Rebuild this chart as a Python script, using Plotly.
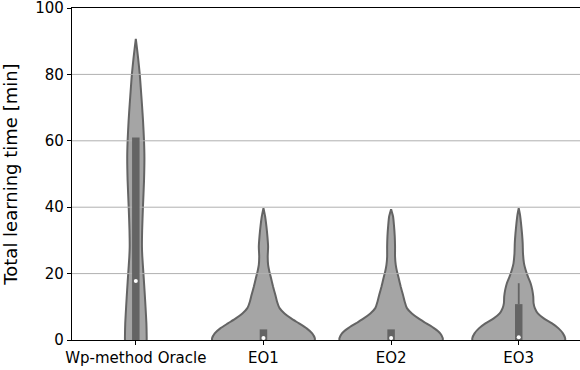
import plotly.graph_objects as go

# ---------------- data ----------------
categories = ["Wp-method Oracle", "EO1", "EO2", "EO3"]

# kernel density outlines: level (minutes) and relative density at that level
wp_levels = [0, 1, 5, 10, 15, 20, 25, 28, 33, 40, 48, 55, 60, 66, 71, 76, 80, 85, 90.7]
wp_density = [11, 11, 10.7, 9.8, 8.8, 7.7, 6.6, 6.2, 6.4, 7.2, 8.3, 8.7, 8.3, 7.3, 6.2, 5, 4, 2.3, 0]

eo1_levels = [0, 0.5, 2, 3.5, 5, 6.5, 8, 9.6, 11.6, 13.6, 16.1, 18.6, 20.6, 22.6, 25.1, 28.1, 31.2, 34.2, 37.2, 39.7]
eo1_density = [52, 52, 49.3, 43.7, 36, 28, 21.3, 16.3, 13.7, 12, 9.7, 7.7, 6, 4.7, 4.3, 4.7, 4, 3, 1.7, 0]

eo2_levels = [0, 0.5, 2, 3.5, 5, 6.5, 8, 9.6, 11.6, 13.6, 16.1, 18.6, 20.6, 22.6, 25.1, 28.1, 31.2, 34.2, 37.2, 39.4]
eo2_density = [52.3, 52.3, 49.7, 43.7, 35.7, 27.7, 21, 16, 13.7, 12, 9.7, 7.7, 6, 4.7, 4, 4, 3.7, 3, 2, 0]

eo3_levels = [0, 0.5, 2, 3.5, 5, 6.5, 8, 9.6, 11.1, 13.1, 15.1, 17.1, 19.1, 21.1, 23.1, 26.1, 29.1, 32.1, 35.2, 37.7, 39.7]
eo3_density = [47, 47, 44.7, 40.3, 33.7, 25.3, 19.3, 16.3, 15, 14.7, 13.7, 12, 9.3, 7, 5.3, 4.3, 4, 3.3, 2.3, 1.3, 0]

# inner box statistics
q1 = [0, 0, 0, 0]
q3 = [61, 3.2, 3.2, 10.8]
whisker_hi = [61, 3.2, 3.2, 17.1]
medians = [17.8, 0.6, 0.6, 0.8]

y_ticks = [0, 20, 40, 60, 80, 100]
grid_vals = [20, 40, 60, 80]

# ---------------- styling ----------------
FILL = "#a5a5a5"
EDGE = "#646464"
FONT = "DejaVu Sans"
MAX_HALF_WIDTH = 0.405
X_RANGE = [-0.5, 3.48]

levels_all = [wp_levels, eo1_levels, eo2_levels, eo3_levels]
dens_all = [wp_density, eo1_density, eo2_density, eo3_density]
dmax = max(max(d) for d in dens_all)

fig = go.Figure()

for i, (lv, dn) in enumerate(zip(levels_all, dens_all)):
    hw = [d / dmax * MAX_HALF_WIDTH for d in dn]
    xs = [i - w for w in hw] + [i + w for w in reversed(hw)]
    ys = list(lv) + list(reversed(lv))
    fig.add_trace(go.Scatter(
        x=xs, y=ys, mode="lines", fill="toself", fillcolor=FILL,
        line=dict(color=EDGE, width=2, shape="spline", smoothing=0.6),
        hoverinfo="skip", showlegend=False))

# grid lines above the violin bodies but below the inner boxes (matplotlib order)
for g in grid_vals:
    fig.add_trace(go.Scatter(
        x=X_RANGE, y=[g, g], mode="lines",
        line=dict(color="#b0b0b0", width=1),
        hoverinfo="skip", showlegend=False))

for i in range(len(categories)):
    if whisker_hi[i] > q3[i]:
        fig.add_trace(go.Scatter(
            x=[i, i], y=[q3[i], whisker_hi[i]], mode="lines",
            line=dict(color=EDGE, width=1.8),
            hoverinfo="skip", showlegend=False))
    fig.add_trace(go.Scatter(
        x=[i, i], y=[q1[i], q3[i]], mode="lines",
        line=dict(color=EDGE, width=7.5),
        hoverinfo="skip", showlegend=False))

fig.add_trace(go.Scatter(
    x=list(range(len(categories))), y=medians, mode="markers",
    marker=dict(color="white", size=4, line=dict(width=0)),
    hoverinfo="skip", showlegend=False))

fig.update_layout(
    width=580, height=370,
    margin=dict(l=72, r=0, t=8, b=30),
    paper_bgcolor="white", plot_bgcolor="white",
    font=dict(family=FONT, size=15, color="black"),
    showlegend=False,
)
fig.update_xaxes(
    range=X_RANGE,
    tickmode="array", tickvals=list(range(len(categories))), ticktext=categories,
    showgrid=False, zeroline=False,
    showline=True, linecolor="black", linewidth=1.2, mirror=True,
    ticks="outside", ticklen=4, tickwidth=1, tickcolor="black",
    tickfont=dict(family=FONT, size=15, color="black"),
    ticklabeloverflow="allow",
)
fig.update_yaxes(
    range=[0, 100],
    tickmode="array", tickvals=y_ticks,
    showgrid=False, zeroline=False,
    showline=True, linecolor="black", linewidth=1.2, mirror=False,
    ticks="outside", ticklen=4, tickwidth=1, tickcolor="black",
    tickfont=dict(family=FONT, size=15, color="black"),
    ticklabeloverflow="allow",
    title=dict(text="Total learning time [min]", font=dict(family=FONT, size=18, color="black"), standoff=15),
)

fig.write_html(
    "out.html",
    config={"displayModeBar": False},
    post_script="document.body.style.margin='0';document.body.style.overflow='hidden';",
)
